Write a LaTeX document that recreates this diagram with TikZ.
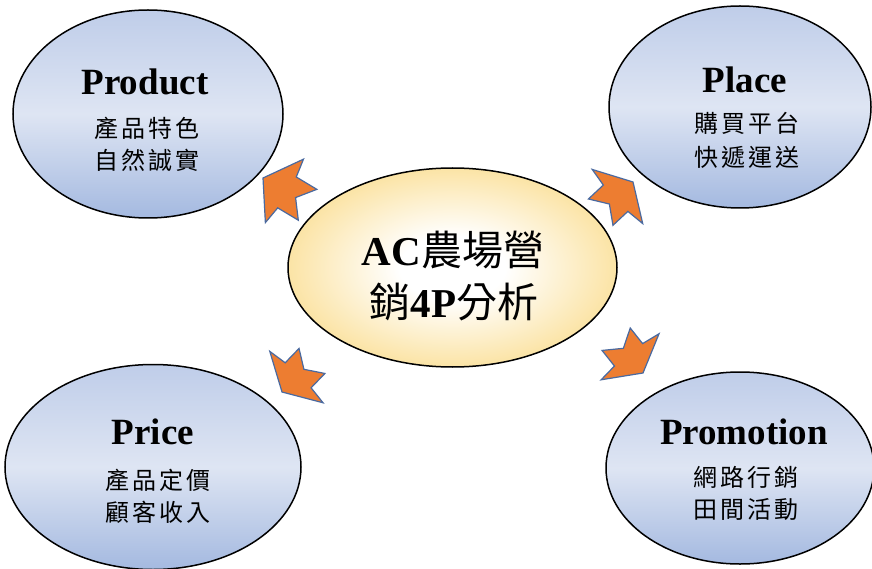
\documentclass[tikz,border=0pt]{standalone}
\usepackage{fontspec}
\setmainfont{Liberation Serif}
\newfontfamily\cjk{Noto Sans CJK TC}
\newfontfamily\cjksp[LetterSpace=12]{Noto Sans CJK TC}
\usetikzlibrary{shapes.geometric}
\definecolor{blueTop}{HTML}{BFCDE9}
\definecolor{blueMid}{HTML}{DEE5F3}
\definecolor{blueBot}{HTML}{A4B9E0}
\definecolor{goldC}{HTML}{F5BF3F}
\definecolor{goldL}{HTML}{FBE2A0}
\definecolor{arrowOrange}{HTML}{ED7D31}
\definecolor{arrowEdge}{HTML}{4A6AA0}
\pgfdeclareradialshading{sunny}{\pgfpoint{0bp}{0bp}}{color(0bp)=(white); color(8bp)=(white); color(26bp)=(goldL); color(46bp)=(goldC); color(100bp)=(goldC)}
\tikzset{
  bubble/.style={ellipse, draw=black, line width=1.5pt, inner sep=0pt, outer sep=0pt,
    top color=blueTop, bottom color=blueBot, middle color=blueMid},
  hub/.style={ellipse, draw=black, line width=1.5pt, inner sep=0pt, outer sep=0pt, shading=sunny},
  title/.style={font=\fontsize{37}{40}\selectfont\bfseries},
  sub/.style={font=\fontsize{24}{28}\selectfont\cjksp},
  hubtext/.style={font=\fontsize{41}{48}\selectfont},
  arrowfill/.style={fill=arrowOrange, draw=arrowEdge, line width=1.2pt, line join=miter},
  notcharrow/.pic={\path[arrowfill] (0,0) -- (-25,37) -- (-28,18) -- (-52,18) -- (-38,0)
     -- (-52,-18) -- (-28,-18) -- (-25,-37) -- cycle;}
}
\begin{document}
\begin{tikzpicture}[x=1pt,y=-1pt]
\useasboundingbox (0,0) rectangle (872,569);
\fill[white] (0,0) rectangle (872,569);

% ellipses
\node[bubble, minimum width=270pt, minimum height=208pt] (prod) at (148,114) {};
\node[bubble, minimum width=262pt, minimum height=202pt] (place) at (740,107) {};
\node[bubble, minimum width=296pt, minimum height=205pt] (price) at (153,467) {};
\node[bubble, minimum width=268pt, minimum height=192pt] (promo) at (740,468) {};
\node[hub, minimum width=329pt, minimum height=199pt] (hub) at (452.5,267.5) {};

% arrows
\pic[rotate=149] (a1) at (263,178) {notcharrow};
\pic[rotate=43, xscale=0.85] (a2) at (633,182) {notcharrow};
\pic[rotate=226, xscale=0.83] (a3) at (282,392) {notcharrow};
\pic[rotate=-51.5, xscale=0.83] (a4) at (643,373) {notcharrow};

% hub text
\node[hubtext] (hub1) at (453,250) {{\bfseries AC}{\cjk 農場營}};
\node[hubtext] (hub2) at (454,302) {{\cjk 銷}{\bfseries 4P}{\cjk 分析}};

% product
\node[title] (prodT) at (145,82) {Product};
\node[sub] (prod1) at (147,128) {產品特色};
\node[sub] (prod2) at (147,160) {自然誠實};

% place
\node[title] (placeT) at (745,80) {Place};
\node[sub] (place1) at (747,123) {購買平台};
\node[sub] (place2) at (747,157) {快遞運送};

% price
\node[title] (priceT) at (153,432) {Price};
\node[sub] (price1) at (158,480) {產品定價};
\node[sub] (price2) at (158,512) {顧客收入};

% promotion
\node[title] (promoT) at (744,432) {Promotion};
\node[sub] (promo1) at (746,477) {網路行銷};
\node[sub] (promo2) at (746,509) {田間活動};
\end{tikzpicture}
\end{document}
